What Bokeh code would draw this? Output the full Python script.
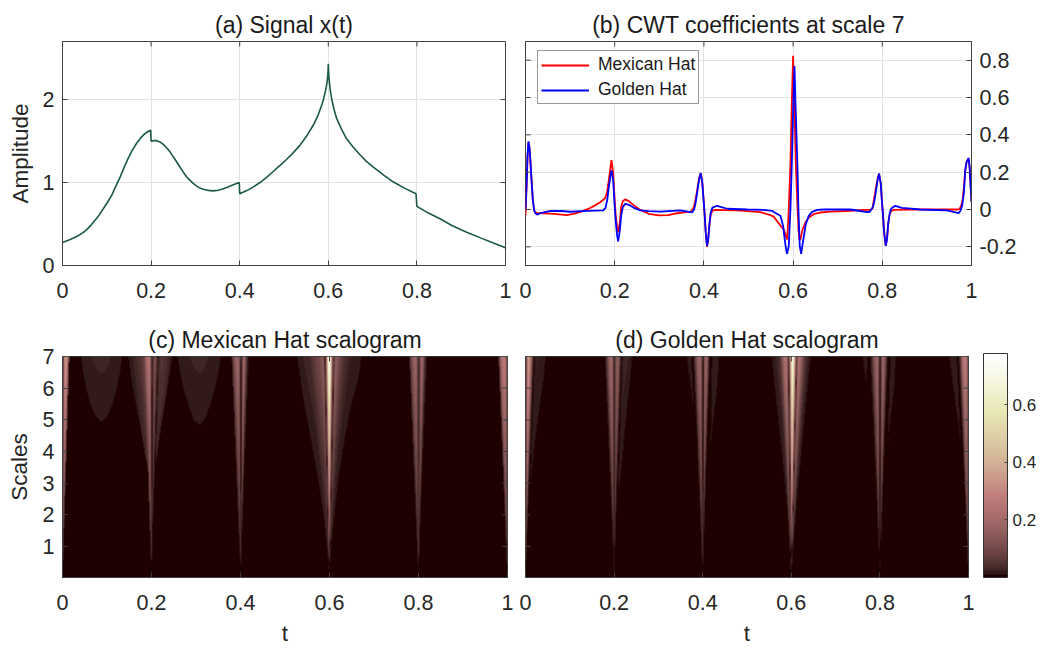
import numpy as np
from bokeh.embed import file_html
from bokeh.resources import INLINE
from bokeh.plotting import figure
from bokeh.layouts import column, row
from bokeh.models import (LinearAxis, FixedTicker, Legend, LegendItem, LinearColorMapper, ColorBar,
                          Range1d, Grid)

sig_t = [0, .016, .032, .045, .054, .065, .073, .083, .092, .102, .111, .12, .13, .139, .148, .157, .167, .176, .186,
         .193, .199, .2, .206, .2125, .22, .2275, .235, .2426, .25, .2576, .265, .2727, .28, .288, .295, .3028, .31,
         .318, .329, .34, .352, .363, .375, .3855, .399, .4, .415, .43, .4458, .46, .475, .491, .505, .52, .536, .551,
         .566, .576, .585, .59, .5947, .5975, .5992, .6, .6008, .6015, .604, .6075, .613, .619, .63, .641, .655, .6715,
         .686, .7017, .725, .747, .773, .798, .8, .825, .852, .88, .9125, .945, .9727, 1]
sig_y = [.278, .31, .35, .39, .43, .49, .543, .61, .684, .765, .845, .95, 1.066, 1.18, 1.288, 1.385, 1.47, 1.535, 1.59,
         1.615, 1.63, 1.497, 1.505, 1.505, 1.49, 1.46, 1.42, 1.37, 1.31, 1.25, 1.187, 1.125, 1.07, 1.026, .99, .957, .935,
         .92, .905, .90, .908, .925, .948, .972, 1.0, .865, .90, .945, 1.0, 1.06, 1.13, 1.207, 1.275, 1.355, 1.448, 1.56,
         1.69, 1.8, 1.93, 2.02, 2.13, 2.22, 2.31, 2.43, 2.33, 2.27, 2.13, 2.01, 1.88, 1.77, 1.64, 1.53, 1.435, 1.335,
         1.255, 1.187, 1.09, 1.006, .93, .865, .712, .635, .563, .48, .402, .33, .27, .213]

mh_t = [0, .0015, .003, .0045, .0067, .009, .0105, .0135, .0165, .0195, .022, .026, .04, .0635, .093, .11, .127, .1457,
        .1532, .1682, .1786, .1831, .1868, .1905, .1928, .1966, .1996, .2025, .2055, .2078, .2115, .2145, .2182, .2235,
        .2317, .2429, .2578, .2765, .299, .32, .34, .36, .37, .375, .378, .381, .384, .387, .39, .393, .3965, .399,
        .4015, .404, .407, .4095, .412, .415, .419, .4258, .474, .5265, .549, .5566, .5715, .5791, .5836, .5866,
        .5881, .5903, .594, .597, .6, .603, .606, .6097, .6119, .6142, .6164, .6209, .6276, .6351, .6463, .6613, .6837,
        .72, .758, .7733, .778, .781, .784, .787, .79, .7927, .7965, .799, .8015, .804, .8077, .8105, .813, .816, .82,
        .8256, .87, .9675, .973, .977, .98, .983, .986, .989, .9937, .996, .998, 1]
mh_y = [-.03, .06, .16, .28, .36, .33, .28, .16, .05, -.005, -.015, -.018, -.02, -.023, -.03, -.022, -.01, .009,
        .018, .04, .061, .094, .157, .225, .265, .193, .067, -.04, -.1, -.122, -.068, .013, .045, .054,
        .045, .022, -.002, -.023, -.032, -.03, -.02, -.014, -.012, 0, .02, .05, .09, .135, .175, .195, .14, .06,
        -.02, -.12, -.2, -.165, -.09, -.03, -.006, -.002, -.005, -.014, -.03, -.038, -.086, -.106, -.14, -.16,
        -.10, .0, .25, .56, .823, .56, .25, .02, -.10, -.16, -.16, -.11, -.07, -.043, -.025, -.016, -.011,
        -.008, -.002, -.002, .005, .05, .09, .135, .17, .192, .14, .05, -.03, -.12, -.194, -.16, -.085, -.03, -.008,
        -.002, 0, 0, .002, .02, .05, .12, .21, .255, .272, .22, .13, .04]

gh_t = [0, .0015, .003, .0045, .0067, .009, .0105, .0135, .0165, .0195, .022, .026, .0336, .056, .08, .101, .138, .1741,
        .1794, .1831, .1868, .1905, .1928, .1966, .1996, .2025, .2055, .2078, .2115, .2145, .2182, .2235, .2317, .2429,
        .2578, .2765, .3026, .347, .3735, .378, .381, .384, .387, .39, .393, .3965, .399, .4015, .404, .407, .4095,
        .412, .415, .419, .4296, .452, .497, .534, .553, .5567, .5716, .5776, .5821, .5851, .5866, .5903, .594, .597,
        .6, .603, .606, .6097, .612, .6149, .618, .6224, .6284, .635, .6426, .654, .669, .7285, .766, .772, .778, .781,
        .784, .787, .79, .7927, .7965, .799, .8015, .804, .8077, .8105, .813, .8167, .82, .829, .844, .885, .945, .971,
        .975, .979, .983, .986, .989, .9937, .996, .998, 1]
gh_y = [0, .08, .17, .29, .365, .33, .28, .16, .05, -.005, -.02, -.027, -.02, -.007, -.008, -.012, -.007, -.005,
        .009, .049, .12, .18, .21, .157, .03, -.068, -.14, -.171, -.113, -.032, .013, .03, .025, .009,
        -.005, -.009, -.011, -.005, -.016, .0, .03, .075, .125, .17, .195, .14, .06, -.02, -.12, -.195, -.165,
        -.09, -.02, .01, .02, .004, 0, -.002, -.007, -.013, -.034, -.088, -.178, -.225, -.238, -.195, 0, .235, .52,
        .769, .52, .235, 0, -.195, -.238, -.17, -.08, -.034, -.013, -.002, 0, 0, -.014, -.012, .01, .03,
        .07, .12, .165, .192, .14, .05, -.03, -.12, -.194, -.16, -.08, -.02, .005, .02, .009, 0, -.005, -.02,
        -.008, .02, .09, .21, .255, .276, .22, .13, .04]

x_ticks = [0, .2, .4, .6, .8, 1]
x_labels = ["0", "0.2", "0.4", "0.6", "0.8", "1"]
scale_ticks = [1, 2, 3, 4, 5, 6, 7]
amp_ticks = [0, 1, 2]
coef_ticks = [-.2, 0, .2, .4, .6, .8]
coef_labels = ["-0.2", "0", "0.2", "0.4", "0.6", "0.8"]
cbar_ticks = [.2, .4, .6]
cbar_labels = ["0.2", "0.4", "0.6"]

sing_t = [0, .2, .4, .6, .8, 1]
mh_left = [0, .056, .02, .072, .02, .02]
mh_right = [.015, .047, .018, .072, .02, 0]
gh_left = [0, .023, .0375, .051, .04, .043]
gh_right = [.045, .043, .037, .046, .037, 0]
amp_s = [0, .5, 1, 2, 3, 4, 5, 6, 7]
amp_v = [0, .14, .22, .34, .45, .57, .7, .85, 1]
# how far the faint flanks of the Mexican Hat 0.2 cone reach at each scale
flank_s = [0, 3.6, 3.8, 4.5, 5.5, 7]
flank_v = [.3, .3, .45, .6, .8, 1]

# faint bumps of the Mexican Hat scalogram: scale, half-width, level
blob_center = [.0876, .0876, .307, .307]
blob_level = [.02, .035, .02, .035]
blob_s = [[4.95, 5.1, 5.5, 6, 6.5, 7], [6.45, 6.6, 6.8, 7], [4.85, 5.0, 5.5, 6, 6.5, 7], [6.45, 6.6, 6.8, 7]]
blob_w = [[0, .012, .025, .034, .041, .046], [0, .011, .017, .022], [0, .012, .025, .035, .043, .048],
          [0, .01, .016, .02]]

VMAX = .777


def pink(n=64):
    g = np.linspace(0, 1, n)
    k = int(3 * n / 8)
    r = np.minimum(1, np.arange(1, n + 1) / k)
    gr = np.clip((np.arange(1, n + 1) - k) / k, 0, 1)
    b = np.clip((np.arange(1, n + 1) - 2 * k) / (n - 2 * k), 0, 1)
    out = []
    for i in range(n):
        c = [np.sqrt((2 * g[i] + h[i]) / 3) for h in (r, gr, b)]
        out.append("#%02x%02x%02x" % tuple(int(round(255 * v)) for v in c))
    return out


PAL = pink()
mapper = LinearColorMapper(palette=PAL, low=0, high=VMAX)

T = np.linspace(0, 1, 892)
S = np.linspace(.02, 7, 448)


def scalogram(ct, cy, left, right, blobs=False, flank_at=None):
    ct, cy = np.array(ct), np.array(cy)
    M = np.zeros((len(S), len(T)))
    for i, s in enumerate(S):
        a = np.interp(s, amp_s, amp_v)
        for t0, l, r in zip(sing_t, left, right):
            f = np.interp(s, flank_s, flank_v) if t0 == flank_at else 1
            d = (T - t0) * 7 / s
            mask = (d >= -l * f) & (d <= r * f)
            v = a * np.abs(np.interp(t0 + d[mask], ct, cy))
            M[i, mask] = np.maximum(M[i, mask], v)
    if blobs:
        for c, lv, bs, bw in zip(blob_center, blob_level, blob_s, blob_w):
            for i, s in enumerate(S):
                if s >= bs[0]:
                    w = np.interp(s, bs, bw)
                    mask = np.abs(T - c) <= w
                    M[i, mask] = np.maximum(M[i, mask], lv)
    return M


FONT = "Liberation Sans"
TXT = "#262626"
LINE = "#404040"


def make(width, height, left, right, top, bottom, title, xr, yr):
    p = figure(width=width, height=height, output_backend="svg", toolbar_location=None,
               min_border_left=left, min_border_right=right, min_border_top=top, min_border_bottom=bottom,
               x_range=Range1d(*xr), y_range=Range1d(*yr), x_axis_type=None, y_axis_type=None,
               title=title)
    p.title.text_font = FONT
    p.title.text_font_size = "23px"
    p.title.text_font_style = "normal"
    p.title.text_color = "#1a1a1a"
    p.title.align = "center"
    p.title.standoff = 8
    p.background_fill_color = "white"
    p.border_fill_color = "white"
    p.outline_line_color = LINE
    return p


def axis(p, side, ticks, labels=None, standoff=8):
    ax = LinearAxis(ticker=FixedTicker(ticks=list(ticks)))
    ax.major_tick_in = 5
    ax.major_tick_out = 0
    ax.minor_tick_line_color = None
    ax.major_tick_line_color = LINE
    ax.axis_line_color = LINE
    ax.major_label_text_font = FONT
    ax.major_label_text_color = TXT
    ax.major_label_text_font_size = "21.5px"
    ax.major_label_standoff = standoff
    if labels is not None:
        ax.major_label_overrides = dict(zip(ticks, labels))
    p.add_layout(ax, side)
    return ax


def mirror(p, side, ticks):
    # bare tick marks on the sides that carry no labels
    if side in ("above", "below"):
        y = p.y_range.end if side == "above" else p.y_range.start
        p.scatter(list(ticks), [y] * len(ticks), marker="dash", angle=np.pi / 2, size=10, line_color=LINE)
    else:
        x = p.x_range.end if side == "right" else p.x_range.start
        p.scatter([x] * len(ticks), list(ticks), marker="dash", size=10, line_color=LINE)


def label(ax, text, standoff):
    ax.axis_label = text
    ax.axis_label_text_font = FONT
    ax.axis_label_text_font_size = "22.5px"
    ax.axis_label_text_font_style = "normal"
    ax.axis_label_text_color = TXT
    ax.axis_label_standoff = standoff


def grid(p, xt, yt):
    for dim, tk in ((0, xt), (1, yt)):
        g = Grid(dimension=dim, ticker=FixedTicker(ticks=list(tk)), grid_line_color="#e2e2e2", grid_line_width=1)
        p.add_layout(g)


X_R = (0, 1)
# (a)
pa = make(513, 310, 62, 8, 41, 45, "(a) Signal x(t)", X_R, (0, 2.7))
axis(pa, "below", x_ticks, x_labels, standoff=17)
label(axis(pa, "left", amp_ticks, [str(v) for v in amp_ticks]), "Amplitude", 7)
grid(pa, x_ticks, amp_ticks)
pa.line(sig_t, sig_y, line_color="#1b5a41", line_width=1.6)
mirror(pa, "above", x_ticks)
mirror(pa, "right", amp_ticks)

# (b)
pb = make(526, 310, 12, 68, 41, 45, "(b) CWT coefficients at scale 7", X_R, (-.3, .9))
axis(pb, "below", x_ticks, x_labels, standoff=17)
axis(pb, "right", coef_ticks, coef_labels)
grid(pb, x_ticks, coef_ticks)
r1 = pb.line(mh_t, mh_y, line_color="#ff0000", line_width=1.8)
r2 = pb.line(gh_t, gh_y, line_color="#0000ff", line_width=1.8)
mirror(pb, "above", x_ticks)
mirror(pb, "left", coef_ticks)
leg = Legend(items=[LegendItem(label="Mexican Hat", renderers=[r1]), LegendItem(label="Golden Hat", renderers=[r2])],
             location=(12, 161), label_text_font=FONT, label_text_font_size="17.5px", label_text_color="#1a1a1a",
             glyph_width=48, glyph_height=20, padding=3, margin=0, spacing=4, label_standoff=9,
             border_line_color="#333333", background_fill_alpha=1, label_height=20)
pb.add_layout(leg, "center")

# (c)
pc = make(513, 338, 62, 6, 45, 70, "(c) Mexican Hat scalogram", X_R, (.02, 7))
label(axis(pc, "below", x_ticks, x_labels, standoff=17), "t", 8)
label(axis(pc, "left", scale_ticks, [str(v) for v in scale_ticks]), "Scales", 8)
pc.image(image=[scalogram(mh_t, mh_y, mh_left, mh_right, True, .2)], x=0, y=.02, dw=1, dh=6.98, color_mapper=mapper)
mirror(pc, "above", x_ticks)
mirror(pc, "right", scale_ticks)

# (d)
pd = make(526, 338, 12, 68, 46, 68, "(d) Golden Hat scalogram", X_R, (.02, 7))
label(axis(pd, "below", x_ticks, x_labels, standoff=17), "t", 8)
pd.image(image=[scalogram(gh_t, gh_y, gh_left, gh_right)], x=0, y=.02, dw=1, dh=6.98, color_mapper=mapper)
mirror(pd, "above", x_ticks)
mirror(pd, "left", scale_ticks)
mirror(pd, "right", scale_ticks)
cb = ColorBar(color_mapper=mapper, width=24, height=224, padding=0, margin=0, location=(15, 0),
              ticker=FixedTicker(ticks=cbar_ticks), major_label_overrides=dict(zip(cbar_ticks, cbar_labels)),
              major_label_text_font=FONT, major_label_text_font_size="17px", major_label_text_color=TXT,
              major_tick_line_color=LINE, major_tick_in=3, bar_line_color="#333333", label_standoff=5,
              minor_tick_line_color=None)
pd.add_layout(cb, "right")

page = column(row(pa, pb, spacing=0), row(pc, pd, spacing=0), spacing=0)
open("out.html", "w").write(file_html(page, INLINE))
